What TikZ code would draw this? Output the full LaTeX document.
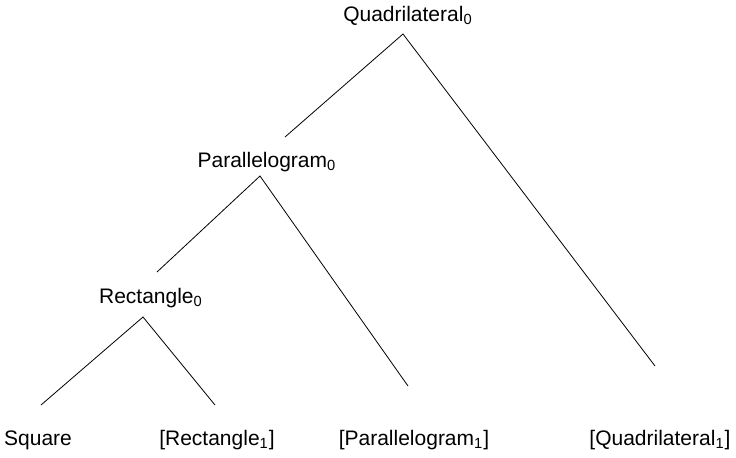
\documentclass[tikz,border=0pt]{standalone}
\usepackage{fontspec}
\setmainfont{Liberation Sans}
\usetikzlibrary{positioning}
\usetikzlibrary{calc}

\tikzset{lbl/.style={inner sep=0pt,font=\fontsize{10.5}{12}\selectfont}}

\begin{document}
\begin{tikzpicture}[x=0.5pt,y=-0.5pt]
            \useasboundingbox (0,0) rectangle (736,457);

            \node[lbl] (q0) at (408,16) {Quadrilateral\textsubscript{0}};
            \node[lbl] (p0) at (267,162) {Parallelogram\textsubscript{0}};
            \node[lbl] (r0) at (151,298) {Rectangle\textsubscript{0}};
            \node[lbl] (sq) at (38,440) {Square};
            \node[lbl] (r1) at (217,440) {[Rectangle\textsubscript{1}]};
            \node[lbl] (p1) at (414,440) {[Parallelogram\textsubscript{1}]};
            \node[lbl] (q1) at (660,440) {[Quadrilateral\textsubscript{1}]};

            \coordinate (q0a) at (403,34);
            \coordinate (q0l) at (285,137);
            \coordinate (q0r) at (655,366);
            \coordinate (p0a) at (260,176);
            \coordinate (p0l) at (157,272);
            \coordinate (p0r) at (408,386);
            \coordinate (r0a) at (143,317);
            \coordinate (r0l) at (41,405);
            \coordinate (r0r) at (215,405);

            \draw (q0l) -- (q0a) -- (q0r);
            \draw (p0l) -- (p0a) -- (p0r);
            \draw (r0l) -- (r0a) -- (r0r);
\end{tikzpicture}
\end{document}
